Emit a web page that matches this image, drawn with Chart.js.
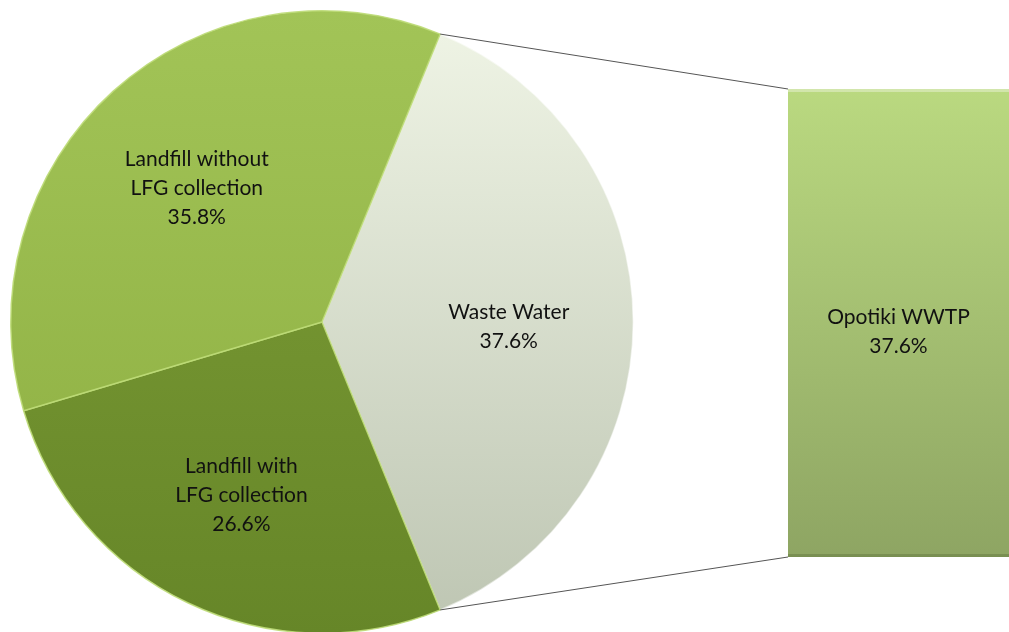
<!DOCTYPE html>
<html lang="en">

<head>
    <meta charset="UTF-8">
    <title>Methane sources - pie of bar</title>
    <style>
        html, body { margin: 0; padding: 0; background: #fff; overflow: hidden; }
        #wrap { position: relative; width: 1009px; height: 632px; }
        #pieChart { position: absolute; left: 0; top: 0; }
        #barChart { position: absolute; left: 788px; top: 89px; }
    </style>
</head>

<body>
    <div id="wrap">
        <canvas id="pieChart" width="1009" height="644"></canvas>
        <canvas id="barChart" width="221" height="468"></canvas>
    </div>
    <script src="https://cdn.jsdelivr.net/npm/chart.js@4/dist/chart.umd.min.js"></script>
    <script>
        // shares of the total, in percent
        const pieLabels = [['Waste Water'], ['Landfill with', 'LFG collection'], ['Landfill without', 'LFG collection']];
        const pieShares = [37.6, 26.6, 35.8];
        const barLabels = [['Opotiki WWTP']];
        const barShares = [37.6];

        const FONT = '21px Lato';
        const LINE_H = 29;
        const BAR_LEFT = 788, BAR_TOP = 89;

        // top-to-bottom gradient inside the chart area
        function vGradient(chart, top, bottom) {
            const area = chart.chartArea;
            if (!area) return top;
            const g = chart.ctx.createLinearGradient(0, area.top, 0, area.bottom);
            g.addColorStop(0, top);
            g.addColorStop(1, bottom);
            return g;
        }

        const sliceColors = [
            ['#f0f5e6', '#bdc5b2'],   // waste water
            ['#7f9f38', '#668628'],   // landfill with
            ['#a2c457', '#8cad40']    // landfill without
        ];

        function drawLines(ctx, lines, x, y) {
            ctx.save();
            ctx.font = FONT;
            ctx.fillStyle = '#111';
            ctx.textAlign = 'center';
            ctx.textBaseline = 'middle';
            const y0 = y - (lines.length - 1) * LINE_H / 2;
            lines.forEach((t, i) => ctx.fillText(t, x, y0 + i * LINE_H));
            ctx.restore();
        }

        // the secondary bar
        const barChart = new Chart(document.getElementById('barChart'), {
            type: 'bar',
            data: {
                labels: barLabels,
                datasets: [{
                    data: barShares,
                    backgroundColor: c => vGradient(c.chart, '#bad980', '#8ea563'),
                    borderWidth: 0,
                    barPercentage: 1,
                    categoryPercentage: 1
                }]
            },
            options: {
                responsive: false,
                animation: false,
                layout: { padding: 0 },
                plugins: { legend: { display: false }, tooltip: { enabled: false } },
                scales: {
                    x: { display: false, stacked: true },
                    y: { display: false, stacked: true, min: 0, max: barShares.reduce((a, b) => a + b, 0) }
                }
            },
            plugins: [{
                id: 'barText',
                afterDatasetsDraw(chart) {
                    const ctx = chart.ctx;
                    chart.getDatasetMeta(0).data.forEach((bar, i) => {
                        // bevel: light top edge, darker bottom edge
                        ctx.save();
                        ctx.fillStyle = 'rgba(255,255,255,0.35)';
                        ctx.fillRect(bar.x - bar.width / 2, bar.y, bar.width, 3);
                        ctx.fillStyle = 'rgba(60,80,30,0.25)';
                        ctx.fillRect(bar.x - bar.width / 2, bar.base - 3, bar.width, 3);
                        ctx.restore();
                        const lines = [].concat(chart.data.labels[i], barShares[i].toFixed(1) + '%');
                        drawLines(ctx, lines, bar.x, (bar.y + bar.base) / 2 + 9);
                    });
                }
            }]
        });

        // main pie, waste water slice turned to face the bar
        const startDeg = 90 - pieShares[0] * 3.6 / 2;

        new Chart(document.getElementById('pieChart'), {
            type: 'pie',
            data: {
                labels: pieLabels,
                datasets: [{
                    data: pieShares,
                    backgroundColor: c => vGradient(c.chart, sliceColors[c.dataIndex][0], sliceColors[c.dataIndex][1]),
                    borderColor: ['rgba(255,255,255,0.5)', 'rgba(190,220,120,0.9)', 'rgba(190,220,120,0.9)'],
                    borderWidth: 1.5,
                    hoverOffset: 0
                }]
            },
            options: {
                responsive: false,
                animation: false,
                rotation: startDeg,
                layout: { padding: { left: 10, top: 10, right: 375, bottom: 10 } },
                plugins: { legend: { display: false }, tooltip: { enabled: false } }
            },
            plugins: [{
                id: 'pieExtras',
                afterDatasetsDraw(chart) {
                    const ctx = chart.ctx;
                    const arcs = chart.getDatasetMeta(0).data;

                    // connector lines from the split-off slice to the bar
                    const ww = arcs[0];
                    const bar = barChart.getDatasetMeta(0).data[0];
                    const bl = BAR_LEFT + bar.x - bar.width / 2;
                    ctx.save();
                    ctx.strokeStyle = '#555';
                    ctx.lineWidth = 1;
                    ctx.beginPath();
                    ctx.moveTo(ww.x + ww.outerRadius * Math.cos(ww.startAngle), ww.y + ww.outerRadius * Math.sin(ww.startAngle));
                    ctx.lineTo(bl, BAR_TOP + bar.y);
                    ctx.moveTo(ww.x + ww.outerRadius * Math.cos(ww.endAngle), ww.y + ww.outerRadius * Math.sin(ww.endAngle));
                    ctx.lineTo(bl, BAR_TOP + bar.base);
                    ctx.stroke();
                    ctx.restore();

                    // slice labels, 60% of the way out along each slice's middle
                    arcs.forEach((a, i) => {
                        const mid = (a.startAngle + a.endAngle) / 2;
                        const r = a.outerRadius * 0.6;
                        const lines = [].concat(chart.data.labels[i], pieShares[i].toFixed(1) + '%');
                        drawLines(ctx, lines, a.x + r * Math.cos(mid), a.y + r * Math.sin(mid) + 5);
                    });
                }
            }]
        });
    </script>
</body>

</html>
